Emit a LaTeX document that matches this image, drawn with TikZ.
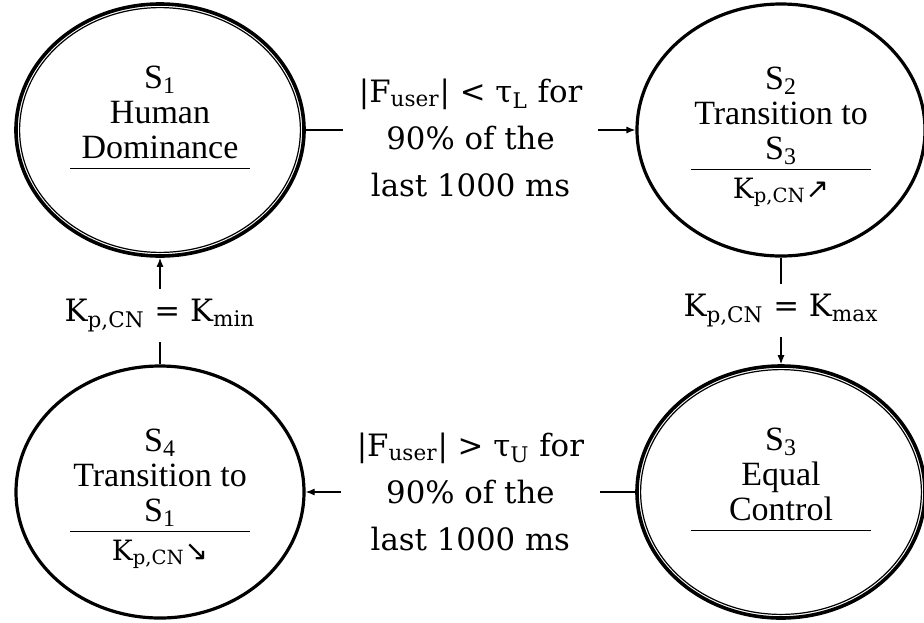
\documentclass[tikz,border=0pt]{standalone}
\usepackage{fontspec}
\setmainfont{Liberation Serif}
\newfontfamily\condfont{DejaVu Serif}
\newfontfamily\arrowfont{DejaVu Sans}
\usetikzlibrary{arrows.meta,shapes.geometric}

\newcommand{\sttop}{\rule{0pt}{18pt}}
\newcommand{\stsep}{\\[-12pt]\rule{90pt}{0.5pt}\\[-3.5pt]}
\newcommand{\kcn}{K\textsubscript{p,CN}}
\newcommand{\kline}[1]{{\condfont\fontsize{14}{14}\selectfont\kcn{\arrowfont #1}}}

\begin{document}
\begin{tikzpicture}[x=0.5pt, y=-0.5pt,
    state/.style={ellipse, draw, line width=1.6pt,
                  minimum width=144pt, minimum height=126pt, inner sep=0pt,
                  align=center, font=\fontsize{17}{17.5}\selectfont},
    dstate/.style={state, line width=1.8pt},
    cond/.style={font=\condfont\fontsize{15.4}{23.5}\selectfont, align=center,
                 fill=white, inner xsep=8pt, inner ysep=5pt},
    trans/.style={-{Latex[length=4.5pt,width=3.5pt]}, line width=0.6pt}
]
  \useasboundingbox (0,0) rectangle (924,622);

  % States
  \node[dstate] (s1) at (160,130) {\sttop S\textsubscript{1}\\Human\\Dominance\stsep\strut};
  \node[state] (s2) at (781,130) {\sttop S\textsubscript{2}\\Transition to\\S\textsubscript{3}\stsep\kline{↗}};
  \node[dstate] (s3) at (781,492) {\sttop S\textsubscript{3}\\Equal\\Control\stsep\strut};
  \node[state] (s4) at (160,492) {\sttop S\textsubscript{4}\\Transition to\\S\textsubscript{1}\stsep\kline{↘}};

  % inner rings of the double states
  \draw[line width=0.6pt] (s1.center) ellipse [x radius=70.2pt, y radius=61.2pt];
  \draw[line width=0.6pt] (s3.center) ellipse [x radius=70.2pt, y radius=61.2pt];

  % Transitions
  \draw[trans] (s1) -- node[cond, yshift=-4pt]
    {|F\textsubscript{user}| < τ\textsubscript{L} for\\90\% of the\\last 1000 ms} (s2);
  \draw[trans] (s2) -- node[cond] {\kcn{} = K\textsubscript{max}} (s3);
  \draw[trans] (s3) -- node[cond]
    {|F\textsubscript{user}| > τ\textsubscript{U} for\\90\% of the\\last 1000 ms} (s4);
  \draw[trans] (s4) -- node[cond, yshift=-2pt] {\kcn{} = K\textsubscript{min}} (s1);
\end{tikzpicture}
\end{document}
